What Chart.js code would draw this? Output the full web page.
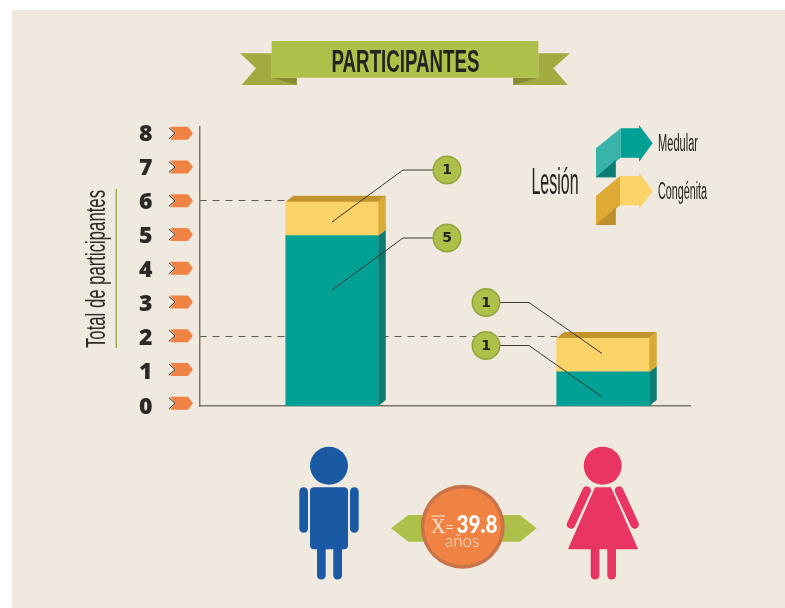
<!DOCTYPE html>
<html lang="es">
<head>
<meta charset="utf-8">
<title>Participantes</title>
<script src="https://cdn.jsdelivr.net/npm/chart.js@4"></script>
<style>html,body{margin:0;padding:0;background:#fff}canvas{display:block}</style>
</head>
<body>
<canvas id="c" width="785" height="608"></canvas>
<script>
const categories = ["Hombres", "Mujeres"];
const seriesNames = ["Medular", "Congénita"];
const medular = [5, 1];
const congenita = [1, 1];
const yTicks = [0, 1, 2, 3, 4, 5, 6, 7, 8];
const titleText = "PARTICIPANTES";
const yTitleText = "Total de participantes";
const legendTitle = "Lesión";
const meanValue = "39.8";
const meanUnit = "años";

const NARROW = '"Liberation Sans Narrow","Liberation Sans",sans-serif';
const INK = '#24231f';
const GREEN = '#aebf4a';
const TEAL = '#00a094', TEAL_SIDE = '#0a7c72';
const YEL = '#fcd368', YEL_SIDE = '#d9a935', YEL_TOP = '#c3932c';

function poly(ctx, pts, color) {
  ctx.fillStyle = color; ctx.beginPath();
  pts.forEach((p, i) => i ? ctx.lineTo(p[0], p[1]) : ctx.moveTo(p[0], p[1]));
  ctx.closePath(); ctx.fill();
}
function txt(ctx, s, x, y, font, color, maxW, align) {
  ctx.font = font; ctx.fillStyle = color; ctx.textAlign = align || 'left'; ctx.textBaseline = 'alphabetic';
  if (maxW) ctx.fillText(s, x, y, maxW); else ctx.fillText(s, x, y);
}
function rr(ctx, x, y, w, h, r, color) {
  ctx.fillStyle = color; ctx.beginPath(); ctx.roundRect(x, y, w, h, r); ctx.fill();
}
function limb(ctx, x1, y1, x2, y2, w, color) {
  ctx.strokeStyle = color; ctx.lineWidth = w; ctx.lineCap = 'round';
  ctx.beginPath(); ctx.moveTo(x1, y1); ctx.lineTo(x2, y2); ctx.stroke(); ctx.lineCap = 'butt';
}
function circle(ctx, x, y, r, color) {
  ctx.fillStyle = color; ctx.beginPath(); ctx.arc(x, y, r, 0, Math.PI * 2); ctx.fill();
}

const decor = {
  id: 'decor',
  beforeDraw(chart) {
    const ctx = chart.ctx;
    ctx.save();
    ctx.fillStyle = '#fff'; ctx.fillRect(0, 0, 785, 608);
    ctx.fillStyle = '#f0e9df'; ctx.fillRect(12, 10, 773, 598);
    // banner
    const B = (x, y) => [220 + x / 3, 30 + y / 3];
    poly(ctx, [[60,70],[155,70],[155,143],[230,143],[230,165],[65,165],[108,115]].map(p => B(p[0], p[1])), '#a2ab40');
    poly(ctx, [[1050,70],[955,70],[955,143],[880,143],[880,165],[1043,165],[1000,115]].map(p => B(p[0], p[1])), '#a2ab40');
    poly(ctx, [[155,143],[230,143],[230,165]].map(p => B(p[0], p[1])), '#868c32');
    poly(ctx, [[955,143],[880,143],[880,165]].map(p => B(p[0], p[1])), '#868c32');
    poly(ctx, [B(155,33), B(955,33), B(955,143), B(155,143)], GREEN);
    txt(ctx, titleText, 405.5, 72, 'bold 31px ' + NARROW, INK, 148, 'center');
    // y title + rule
    ctx.save();
    ctx.translate(105, 348); ctx.rotate(-Math.PI / 2);
    txt(ctx, yTitleText, 0, 0, '27px ' + NARROW, '#2c2b27', 158);
    ctx.restore();
    ctx.fillStyle = '#a3ad55'; ctx.fillRect(115.5, 189, 1.5, 159);
    // legend
    txt(ctx, legendTitle, 531.5, 194, '36px ' + NARROW, INK, 47);
    txt(ctx, seriesNames[0], 658, 151, '23px ' + NARROW, INK, 40);
    txt(ctx, seriesNames[1], 658, 198.5, '23px ' + NARROW, INK, 49);
    const L = (x, y) => [460 + x / 3, 115 + y / 3];
    const arrow = (dy, side, main, dark, x0) => {
      poly(ctx, [[408,100+dy],[x0,40+dy],[x0,128+dy],[467,140+dy],[467,187+dy],[408,187+dy]].map(p => L(p[0], p[1])), side);
      poly(ctx, [[408,187+dy],[467,187+dy],[467,135+dy]].map(p => L(p[0], p[1])), dark);
      poly(ctx, [[x0,40+dy],[537,40+dy],[537,30+dy],[578,85+dy],[537,140+dy],[537,128+dy],[x0,128+dy]].map(p => L(p[0], p[1])), main);
    };
    arrow(0, '#38b3a9', '#00a094', '#0c7d74', 482);
    arrow(143, '#dcaa35', YEL, '#bd8e2b', 480);
    // dashed guides at the totals
    const y = chart.scales.y, x = chart.scales.x;
    ctx.strokeStyle = '#5c5850'; ctx.lineWidth = 1; ctx.setLineDash([7, 6]);
    categories.forEach((c, i) => {
      const py = Math.round(y.getPixelForValue(medular[i] + congenita[i]) - 1.5) + 0.5;
      ctx.beginPath(); ctx.moveTo(x.left, py); ctx.lineTo(x.getPixelForValue(i + 1) - 46, py); ctx.stroke();
    });
    ctx.setLineDash([]);
    // tick arrows
    yTicks.forEach(v => {
      const py = y.getPixelForValue(v) - 2.7 + 0.31 * v;
      poly(ctx, [[170,py-6.5],[188,py-6.5],[193,py],[188,py+6.5],[170,py+6.5],[175.5,py]], '#f08344');
      ctx.strokeStyle = '#2b2620'; ctx.lineWidth = 1;
      ctx.beginPath(); ctx.moveTo(169, py-5.5); ctx.lineTo(175, py); ctx.lineTo(169, py+5.5); ctx.stroke();
    });
    // people
    const man = '#1a5aa5', wom = '#e93563';
    circle(ctx, 329, 465.7, 19, man);
    rr(ctx, 310, 487.3, 38, 62, 4, man);
    rr(ctx, 299.3, 487.3, 8.7, 45.5, 4.3, man);
    rr(ctx, 350, 487.3, 8.7, 45.5, 4.3, man);
    rr(ctx, 317, 545, 8.7, 34.5, 4.3, man);
    rr(ctx, 333.3, 545, 8.7, 34.5, 4.3, man);
    circle(ctx, 602.7, 465.7, 19, wom);
    ctx.fillStyle = wom; ctx.beginPath();
    ctx.moveTo(595.5, 488); ctx.lineTo(610.5, 488); ctx.lineTo(637, 548.5); ctx.lineTo(569, 548.5); ctx.closePath(); ctx.fill();
    ctx.lineJoin = 'round'; ctx.strokeStyle = wom; ctx.lineWidth = 1.5; ctx.stroke();
    limb(ctx, 586.7, 490.5, 571, 524.5, 8.5, wom);
    limb(ctx, 619, 490.5, 634.7, 524.5, 8.5, wom);
    rr(ctx, 590.7, 545, 8.7, 34.5, 4.3, wom);
    rr(ctx, 607.3, 545, 8.7, 34.5, 4.3, wom);
    // mean badge
    const G = (x, y) => [280 + x / 3, 435 + y / 3];
    poly(ctx, [[333,280],[385,240],[720,240],[770,280],[720,320],[385,320]].map(p => G(p[0], p[1])), GREEN);
    circle(ctx, 462.7, 526.7, 42, '#c8734a');
    circle(ctx, 462.7, 526.7, 38.5, '#f08344');
    txt(ctx, 'X', 431, 533, '20px "Liberation Serif",serif', '#f7e6d8');
    ctx.fillStyle = '#f7e6d8'; ctx.fillRect(431, 515.5, 14, 1);
    txt(ctx, '=', 446, 531, '12px "Liberation Sans",sans-serif', '#f7e6d8');
    txt(ctx, meanValue, 456.5, 533, '900 24px Lato,"Liberation Sans",sans-serif', '#fff', 41);
    txt(ctx, meanUnit, 445, 547, '300 17px Lato,"Liberation Sans",sans-serif', '#f7e6d8', 35);
    ctx.restore();
  },
  afterDatasetsDraw(chart) {
    const ctx = chart.ctx, dx = 7.5, dy = 6;
    ctx.save();
    const m0 = chart.getDatasetMeta(0).data, m1 = chart.getDatasetMeta(1).data;
    categories.forEach((c, i) => {
      const a = m0[i], b = m1[i];
      const l = a.x - a.width / 2, r = a.x + a.width / 2;
      // side faces
      poly(ctx, [[r, a.base], [r + dx, a.base - dy], [r + dx, a.y - dy], [r, a.y]], TEAL_SIDE);
      poly(ctx, [[r, a.y], [r + dx, a.y - dy], [r + dx, b.y - dy], [r, b.y]], YEL_SIDE);
      // top face
      poly(ctx, [[l, b.y], [l + dx, b.y - dy], [r + dx, b.y - dy], [r, b.y]], YEL_TOP);
    });
    // callouts
    const call = (val, cx, cy, pts) => {
      ctx.strokeStyle = '#3b3a33'; ctx.lineWidth = 1;
      ctx.beginPath(); ctx.moveTo(cx, cy);
      pts.forEach(p => ctx.lineTo(p[0], p[1])); ctx.stroke();
      circle(ctx, cx, cy, 14.5, '#94a23a');
      circle(ctx, cx, cy, 13, GREEN);
      ctx.font = 'bold 14px "DejaVu Sans",sans-serif'; ctx.fillStyle = INK;
      ctx.textAlign = 'center'; ctx.textBaseline = 'middle';
      ctx.fillText(String(val), cx, cy + 0.5);
    };
    call(congenita[0], 447, 170, [[403, 170], [332, 222]]);
    call(medular[0], 447, 238, [[403, 238], [332, 290]]);
    call(congenita[1], 486, 302.5, [[529, 302.5], [602, 353.5]]);
    call(medular[1], 486, 345.5, [[529, 345.5], [602, 397]]);
    ctx.restore();
  }
};

new Chart(document.getElementById('c'), {
  type: 'bar',
  data: {
    datasets: [
      { label: seriesNames[0], data: medular.map((v, i) => ({ x: i + 1, y: v })), backgroundColor: TEAL, barThickness: 92.5, stack: 's' },
      { label: seriesNames[1], data: congenita.map((v, i) => ({ x: i + 1, y: v })), backgroundColor: YEL, barThickness: 92.5, stack: 's' }
    ]
  },
  options: {
    responsive: false,
    animation: false,
    events: [],
    layout: { padding: { left: 0, right: 95, top: 126.7, bottom: 202 } },
    plugins: { legend: { display: false }, tooltip: { enabled: false }, title: { display: false } },
    scales: {
      x: {
        type: 'linear', stacked: true, min: 0.511, max: 2.321, offset: false,
        grid: { display: false, drawTicks: false },
        border: { color: '#7b766b', width: 1.5 },
        ticks: { display: false },
        afterFit(s) { s.height = 0; }
      },
      y: {
        stacked: true, min: 0, max: 8.2,
        grid: { display: false, drawTicks: false },
        border: { color: '#7b766b', width: 1.5 },
        afterBuildTicks(s) { s.ticks = yTicks.map(v => ({ value: v })); },
        ticks: {
          padding: 47, labelOffset: 1, color: '#2a2925', autoSkip: false,
          font: { family: '"Open Sans","DejaVu Sans",sans-serif', size: 23, weight: '800' }
        },
        afterFit(s) { s.width = 199.5; }
      }
    }
  },
  plugins: [decor]
});
</script>
</body>
</html>
